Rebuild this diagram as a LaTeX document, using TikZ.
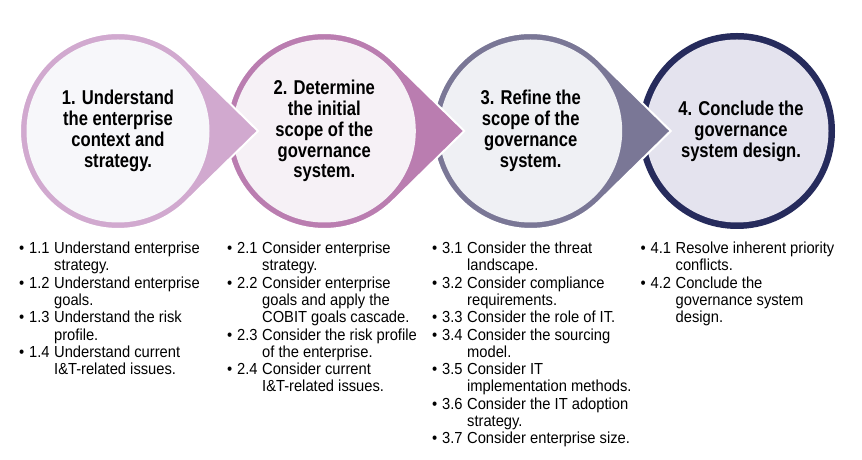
\documentclass[tikz,border=0pt]{standalone}
\usepackage{xcolor}
\usepackage{fontspec}
\setmainfont{Liberation Sans}[FakeStretch=0.92]
\newfontfamily\titlefont{Liberation Sans}[FakeStretch=0.83]
\usepackage{tikz}
\usetikzlibrary{calc}

\definecolor{ringA}{HTML}{D1A9CF}
\definecolor{ringB}{HTML}{BA7DB0}
\definecolor{ringC}{HTML}{7A7796}
\definecolor{ringD}{HTML}{262B5C}
\definecolor{fillA}{HTML}{F7F7FA}
\definecolor{fillB}{HTML}{F6F1F6}
\definecolor{fillC}{HTML}{EFF0F4}
\definecolor{fillD}{HTML}{E4E3EE}

\tikzset{
  drop/.style={draw=white, line width=2pt},
  title/.style={align=center, inner sep=0pt, text=black,
    font=\titlefont\bfseries\fontsize{20}{20.9}\selectfont},
  steplist/.style={anchor=north west, inner sep=0pt, text=black,
    font=\fontsize{16}{17.3}\selectfont}
}

\begin{document}
\begin{tikzpicture}[x=1pt,y=1pt]
\useasboundingbox (0,0) rectangle (862,460);

%Centres
\coordinate (c1) at (118,329);
\coordinate (c2) at (324.3,329);
\coordinate (c3) at (530.7,329);
\coordinate (c4) at (737,329);

%Circle 4
\fill[ringD] (c4) circle(98);
\fill[fillD] (c4) circle(91.5);

%Circle 3
\filldraw[ringC, drop] ($(c3)+(140,0)$) -- ($(c3)+(45.6:98)$)
  arc[start angle=45.6, end angle=314.4, radius=98] -- cycle;
\fill[fillC] (c3) circle(91.5);

%Circle 2
\filldraw[ringB, drop] ($(c2)+(140,0)$) -- ($(c2)+(45.6:98)$)
  arc[start angle=45.6, end angle=314.4, radius=98] -- cycle;
\fill[fillB] (c2) circle(91.5);

%Circle 1
\filldraw[ringA, drop] ($(c1)+(140,0)$) -- ($(c1)+(45.6:98)$)
  arc[start angle=45.6, end angle=314.4, radius=98] -- cycle;
\fill[fillA] (c1) circle(91.5);

%Titles
\node[title] (t1) at (c1) {1. Understand\\the enterprise\\context and\\strategy.};
\node[title] (t2) at (c2) {2. Determine\\the initial\\scope of the\\governance\\system.};
\node[title] (t3) at (c3) {3. Refine the\\scope of the\\governance\\system.};
\node[title] (t4) at ($(c4)+(4,0)$) {4. Conclude the\\governance\\system design.};

%Lists
\node[steplist] (l1) at (19,218.8) {%
\begin{tabular}{@{}p{10pt}@{}l@{\hspace{4.5pt}}l@{}}
\textbullet & 1.1 & Understand enterprise\\
 & & strategy.\\
\textbullet & 1.2 & Understand enterprise\\
 & & goals.\\
\textbullet & 1.3 & Understand the risk\\
 & & profile.\\
\textbullet & 1.4 & Understand current\\
 & & I\&T-related issues.
\end{tabular}};

\node[steplist] (l2) at (227,218.8) {%
\begin{tabular}{@{}p{10pt}@{}l@{\hspace{4.5pt}}l@{}}
\textbullet & 2.1 & Consider enterprise\\
 & & strategy.\\
\textbullet & 2.2 & Consider enterprise\\
 & & goals and apply the\\
 & & COBIT goals cascade.\\
\textbullet & 2.3 & Consider the risk profile\\
 & & of the enterprise.\\
\textbullet & 2.4 & Consider current\\
 & & I\&T-related issues.
\end{tabular}};

\node[steplist] (l3) at (432,218.8) {%
\begin{tabular}{@{}p{10pt}@{}l@{\hspace{4.5pt}}l@{}}
\textbullet & 3.1 & Consider the threat\\
 & & landscape.\\
\textbullet & 3.2 & Consider compliance\\
 & & requirements.\\
\textbullet & 3.3 & Consider the role of IT.\\
\textbullet & 3.4 & Consider the sourcing\\
 & & model.\\
\textbullet & 3.5 & Consider IT\\
 & & implementation methods.\\
\textbullet & 3.6 & Consider the IT adoption\\
 & & strategy.\\
\textbullet & 3.7 & Consider enterprise size.
\end{tabular}};

\node[steplist] (l4) at (640.5,218.8) {%
\begin{tabular}{@{}p{10pt}@{}l@{\hspace{4.5pt}}l@{}}
\textbullet & 4.1 & Resolve inherent priority\\
 & & conflicts.\\
\textbullet & 4.2 & Conclude the\\
 & & governance system\\
 & & design.
\end{tabular}};

\end{tikzpicture}
\end{document}
